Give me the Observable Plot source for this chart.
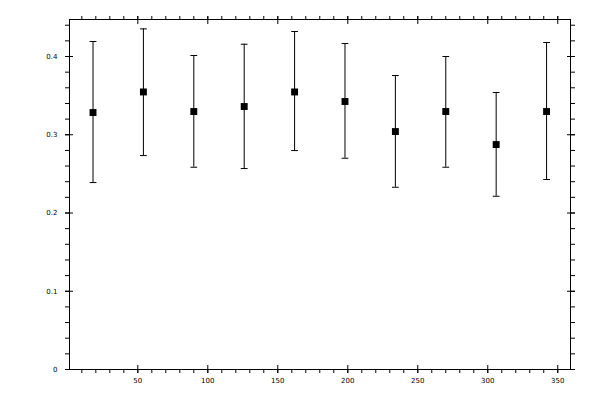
<!DOCTYPE html>
<html>
<head>
<meta charset="utf-8">
<script src="https://cdn.jsdelivr.net/npm/d3@7"></script>
<script src="https://cdn.jsdelivr.net/npm/@observablehq/plot@0.6"></script>
<style>
  html, body { margin: 0; padding: 0; background: #fff; }
</style>
</head>
<body>
<div id="chart"></div>
<script>
// Data
const xs  = [18, 54, 90, 126, 162, 198, 234, 270, 306, 342];
const ys  = [0.3284, 0.3547, 0.3297, 0.3361, 0.3547, 0.3425, 0.3041, 0.3297, 0.2875, 0.3297];
const his = [0.4192, 0.4353, 0.4013, 0.4157, 0.4320, 0.4166, 0.3757, 0.4000, 0.3540, 0.4179];
const los = [0.2389, 0.2734, 0.2585, 0.2568, 0.2798, 0.2700, 0.2329, 0.2585, 0.2214, 0.2428];

// Tick values
const xMajor = [50, 100, 150, 200, 250, 300, 350];
const xMinor = [10, 20, 30, 40, 50, 60, 70, 80, 90, 100, 110, 120, 130, 140, 150, 160, 170, 180,
                190, 200, 210, 220, 230, 240, 250, 260, 270, 280, 290, 300, 310, 320, 330, 340, 350];
const yMajor = [0, 0.1, 0.2, 0.3, 0.4];
const yMinor = [0, 0.02, 0.04, 0.06, 0.08, 0.1, 0.12, 0.14, 0.16, 0.18, 0.2, 0.22, 0.24, 0.26,
                0.28, 0.3, 0.32, 0.34, 0.36, 0.38, 0.4, 0.42, 0.44];

const table = xs.map((x, i) => ({x, y: ys[i], hi: his[i], lo: los[i]}));

const capShape = {
  draw(context, l) {
    context.moveTo(0, 0);
    context.lineTo(0, -l);
  }
};

const chart = Plot.plot({
  width: 600,
  height: 400,
  marginLeft: 69,
  marginRight: 30,
  marginTop: 19,
  marginBottom: 31,
  style: {fontFamily: "DejaVu Sans", fontSize: "7px", background: "#fff", color: "#000"},
  x: {domain: [1.2, 359.1]},
  y: {domain: [0, 0.4473]},
  marks: [
    Plot.frame({stroke: "#000", strokeWidth: 1}),
    // left axis
    Plot.axisY(yMajor, {anchor: "left", tickSize: 8, dx: 4, fill: "none", label: null}),
    Plot.axisY(yMinor, {anchor: "left", tickSize: 4, fill: "none", label: null}),
    Plot.axisY(yMajor, {anchor: "left", tickSize: 0, tickPadding: 12, label: null, tickFormat: d => String(d)}),
    // right axis
    Plot.axisY(yMajor, {anchor: "right", tickSize: 8, dx: -4, fill: "none", label: null}),
    Plot.axisY(yMinor, {anchor: "right", tickSize: 4, fill: "none", label: null}),
    // bottom axis
    Plot.axisX(xMajor, {anchor: "bottom", tickSize: 8, dy: -4, fill: "none", label: null}),
    Plot.axisX(xMinor, {anchor: "bottom", tickSize: 4, fill: "none", label: null}),
    Plot.axisX(xMajor, {anchor: "bottom", tickSize: 0, tickPadding: 9, label: null, tickFormat: d => String(d)}),
    // top axis
    Plot.axisX(xMajor, {anchor: "top", tickSize: 8, dy: 4, fill: "none", label: null}),
    Plot.axisX(xMinor, {anchor: "top", tickSize: 4, fill: "none", label: null}),
    // error bars
    Plot.ruleX(table, {x: "x", y1: "lo", y2: "hi", stroke: "#000", strokeWidth: 1}),
    Plot.vector(table, {x: "x", y: "hi", length: 6, rotate: 90, anchor: "middle", shape: capShape, stroke: "#000", strokeWidth: 1}),
    Plot.vector(table, {x: "x", y: "lo", length: 6, rotate: 90, anchor: "middle", shape: capShape, stroke: "#000", strokeWidth: 1}),
    // points
    Plot.dot(table, {x: "x", y: "y", symbol: "square", r: 3.9, fill: "#000"})
  ]
});

document.getElementById("chart").appendChild(chart);
</script>
</body>
</html>
